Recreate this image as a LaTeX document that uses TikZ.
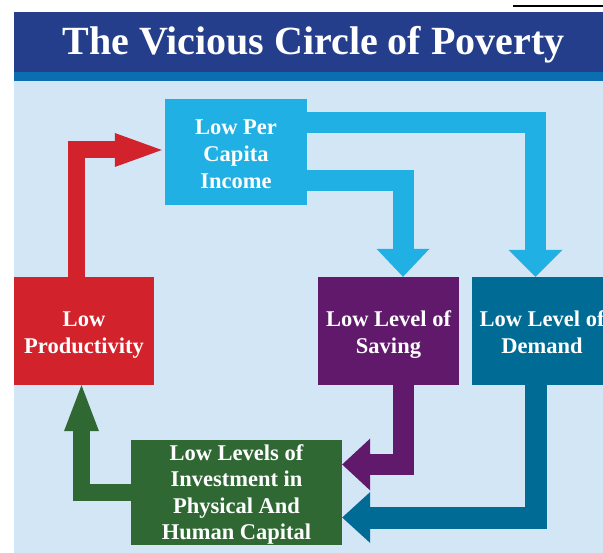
\documentclass[tikz,border=0pt]{standalone}
\usepackage{fontspec}
\setmainfont{Liberation Serif}
\usetikzlibrary{arrows.meta}
\definecolor{titleblue}{RGB}{36,62,139}
\definecolor{stripeblue}{RGB}{10,110,176}
\definecolor{bgblue}{RGB}{211,230,246}
\definecolor{incblue}{RGB}{33,176,228}
\definecolor{prodred}{RGB}{210,34,43}
\definecolor{savpurple}{RGB}{96,25,107}
\definecolor{demteal}{RGB}{0,107,148}
\definecolor{invgreen}{RGB}{48,104,52}
\newcommand{\hi}[1][24.5pt]{\rule{0pt}{#1}}
\tikzset{
  box/.style={draw=none, inner sep=0pt, align=center, text=white,
    font=\fontsize{22.5}{27}\selectfont\bfseries,
    execute at end node=\rule[-5.5pt]{0pt}{5.5pt}},
  flow/.style n args={3}{line width=#1, line join=miter,
    -{Triangle[length=#2, width=#3, line width=0pt]}},
}

\begin{document}
\begin{tikzpicture}[x=1pt, y=-1pt]

\clip (0,0) rectangle (603,553);
\fill[bgblue] (13.5,81) rectangle (603,553);
\fill[titleblue] (13.5,12) rectangle (603,72);
\fill[stripeblue] (13.5,72) rectangle (603,81);
\draw[line width=2.5pt] (513,6) -- (603,6);

\node[anchor=base, text=white, font=\fontsize{40}{48}\selectfont\bfseries] (title) at (313.5,55) {The Vicious Circle of Poverty};

\node[box, fill=incblue, minimum width=142pt, minimum height=106pt] (inc) at (236,152) {\hi Low Per\\Capita\\Income};
\node[box, fill=prodred, minimum width=140pt, minimum height=108pt] (prod) at (84,331) {\hi Low\\Productivity};
\node[box, fill=savpurple, minimum width=141pt, minimum height=108pt] (sav) at (388.5,331) {\hi Low Level of\\Saving};
\node[box, fill=demteal, minimum width=140pt, minimum height=108pt] (dem) at (542,331) {\hi Low Level of\\Demand};
\node[box, fill=invgreen, minimum width=211pt, minimum height=105pt,
  font=\fontsize{22.5}{26.3}\selectfont\bfseries] (inv) at (236.5,492.5) {\hi[20.5pt]Low Levels of\\Investment in\\Physical And\\Human Capital};

% the circle
\draw[flow={17pt}{47pt}{34pt}, prodred, shorten >=3pt] ([xshift=-8pt]prod.north) |- ([yshift=2pt]inc.west);
\draw[flow={21pt}{27pt}{54pt}, incblue] ([yshift=29pt]inc.east) -| ([xshift=-6.5pt]dem.north);
\draw[flow={21pt}{28pt}{53pt}, incblue] ([yshift=-28.5pt]inc.east) -| ([xshift=14.5pt]sav.north);
\draw[flow={21pt}{28pt}{52pt}, savpurple] ([xshift=14.5pt]sav.south) |- ([yshift=28pt]inv.east);
\draw[flow={22pt}{28pt}{51pt}, demteal] ([xshift=-6.5pt]dem.south) |- ([yshift=-25pt]inv.east);
\draw[flow={17pt}{46pt}{35pt}, invgreen] (inv.west) -| ([xshift=-2.5pt]prod.south);

\end{tikzpicture}
\end{document}
